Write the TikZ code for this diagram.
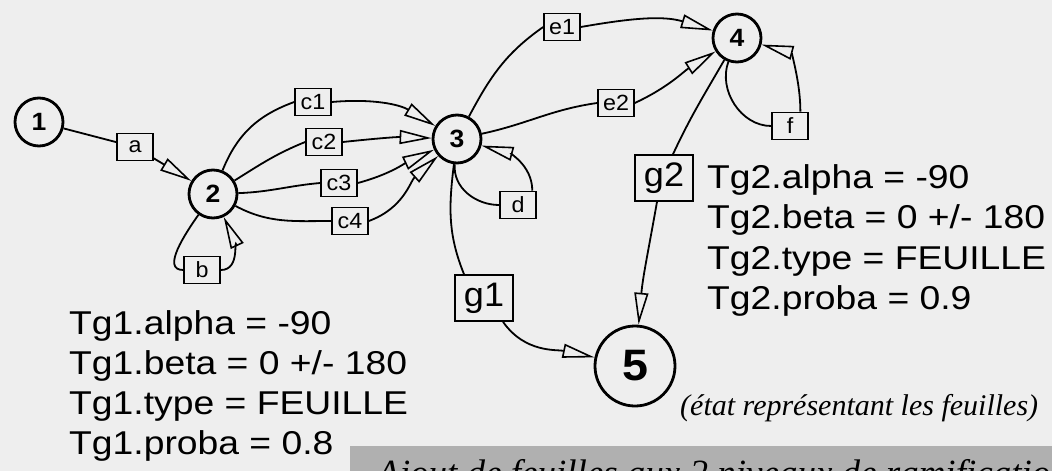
\documentclass[tikz,border=0pt]{standalone}
\usepackage{fontspec}
\setmainfont{Liberation Sans}
\newfontfamily\hv[FakeStretch=1.06]{Liberation Sans}
\newfontfamily\hvw[FakeStretch=1.13]{Liberation Sans}
\newfontfamily\tmi{Liberation Serif}
\usetikzlibrary{arrows.meta}
\definecolor{paper}{RGB}{238,238,238}
\definecolor{band}{RGB}{176,176,176}
\tikzset{
 state/.style={circle, draw, line width=2.8pt, fill=paper, minimum size=48pt, inner sep=0pt, font=\hv\bfseries\fontsize{25}{25}\selectfont},
 bigstate/.style={state, minimum size=80pt, font=\hv\bfseries\fontsize{44}{44}\selectfont},
 lbl/.style={draw, line width=1.6pt, fill=paper, minimum width=36pt, minimum height=27pt, inner sep=0pt, font=\hv\fontsize{22}{22}\selectfont},
 biglbl/.style={lbl, minimum width=58pt, minimum height=46pt, font=\hv\fontsize{34}{34}\selectfont},
 edge/.style={line width=1.8pt},
 arr/.style={-{Triangle[open, length=32pt, width=14pt, line width=1.6pt]}},
 attr/.style={anchor=base west, inner sep=0pt, font=\hvw\fontsize{33}{33}\selectfont},
 note/.style={anchor=base west, inner sep=0pt, font=\tmi\itshape\fontsize{30}{30}\selectfont},
 captext/.style={anchor=base west, inner sep=0pt, font=\tmi\itshape\fontsize{37}{37}\selectfont},
}
\begin{document}
\begin{tikzpicture}[x=1pt,y=-1pt]
\useasboundingbox (0,0) rectangle (1052,471);
\fill[paper] (0,0) rectangle (1052,471);
% states
\node[state] (n1) at (39,122) {1};
\node[state] (n2) at (213,194) {2};
\node[state] (n3) at (457,139) {3};
\node[state] (n4) at (737,38) {4};
\node[bigstate] (n5) at (635,366) {5};
% transition labels
\node[lbl] (la) at (135,147) {a};
\node[lbl] (lb) at (202,270) {b};
\node[lbl] (lc1) at (313,102) {c1};
\node[lbl] (lc2) at (324,142) {c2};
\node[lbl] (lc3) at (339,183) {c3};
\node[lbl] (lc4) at (350,221) {c4};
\node[lbl] (le1) at (562,27) {e1};
\node[lbl] (le2) at (616,103) {e2};
\node[lbl] (ld) at (518,205) {d};
\node[lbl] (lf) at (790,126) {f};
\node[biglbl] (lg1) at (484,298) {g1};
\node[biglbl] (lg2) at (664,178) {g2};
% edges
\draw[edge] (n1) -- (la);
\draw[edge,arr] (la) -- (n2);
\draw[edge] (n2) to[out=235,in=180] (lb.west);
\draw[edge,arr] (lb.east) to[out=0,in=-65] (n2);
\draw[edge] (n2) to[out=68,in=200] (lc1.west);
\draw[edge,arr] (lc1.east) to[out=5,in=149] (n3);
\draw[edge] (n2) to[out=32,in=202] (lc2.west);
\draw[edge,arr] (lc2.east) to[out=6,in=178] (n3);
\draw[edge] (n2) to[out=2,in=185] (lc3.west);
\draw[edge,arr] (lc3.east) to[out=15,in=205] (n3);
\draw[edge] (n2) to[out=-28,in=180] (lc4.west);
\draw[edge,arr] (lc4.east) to[out=20,in=222] (n3);
\draw[edge] (n3) to[out=62,in=215] (le1.west);
\draw[edge,arr] (le1.east) to[out=10,in=163] (n4);
\draw[edge] (n3) to[out=12,in=188] (le2.west);
\draw[edge,arr] (le2.east) to[out=25,in=212] (n4);
\draw[edge] (n3) to[out=-95,in=180] (ld.west);
\draw[edge,arr] (ld.45) to[out=90,in=-15] (n3);
\draw[edge] (n4) to[out=-110,in=180] (lf.west);
\draw[edge,arr] (lf.54) to[out=90,in=-15] (n4);
\draw[edge] (n3) to[out=-97,in=112] ([xshift=-20pt]lg1.north);
\draw[edge,arr] ([xshift=19pt]lg1.south) to[out=-55,in=168] (n5);
\draw[edge] (n4) to[out=-120,in=65] ([xshift=9pt]lg2.north);
\draw[edge,arr] ([xshift=-7pt]lg2.south) to[out=-100,in=85] (n5);
% attribute texts
\node[attr] (t1a) at (69,334) {Tg1.alpha = -90};
\node[attr] (t1b) at (69,374) {Tg1.beta = 0 +/- 180};
\node[attr] (t1c) at (69,414) {Tg1.type = FEUILLE};
\node[attr] (t1d) at (69,454) {Tg1.proba = 0.8};
\node[attr] (t2a) at (707,188) {Tg2.alpha = -90};
\node[attr] (t2b) at (707,228.5) {Tg2.beta = 0 +/- 180};
\node[attr] (t2c) at (707,269) {Tg2.type = FEUILLE};
\node[attr] (t2d) at (707,309.5) {Tg2.proba = 0.9};
\node[note] (etat) at (680,415) {(état représentant les feuilles)};
% cut-off caption band
\begin{scope}
\clip (0,0) rectangle (1052,471);
\fill[band] (350,446) rectangle (1052,471);
\node[captext] (cap) at (377,485) {Ajout de feuilles aux 2 niveaux de ramification};
\end{scope}
\end{tikzpicture}
\end{document}
